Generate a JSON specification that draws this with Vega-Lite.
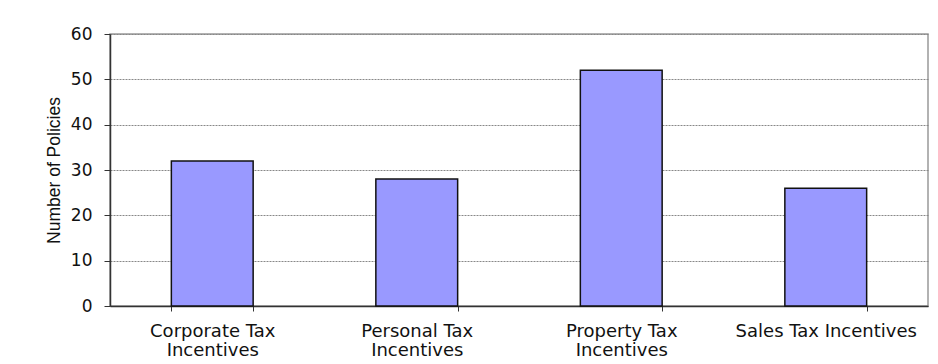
{
  "$schema": "https://vega.github.io/schema/vega-lite/v6.json",
  "autosize": "none",
  "width": 818,
  "height": 272,
  "padding": {"left": 110, "top": 34, "right": 10, "bottom": 58},
  "background": "white",
  "data": {
    "values": [
      {"category": "Corporate Tax Incentives", "policies": 32},
      {"category": "Personal Tax Incentives", "policies": 28},
      {"category": "Property Tax Incentives", "policies": 52},
      {"category": "Sales Tax Incentives", "policies": 26}
    ]
  },
  "mark": {"type": "bar", "color": "#9999FF", "stroke": "#111111", "strokeWidth": 1.5},
  "encoding": {
    "x": {
      "field": "category",
      "type": "nominal",
      "sort": null,
      "scale": {"paddingInner": 0.6, "paddingOuter": 0.3},
      "axis": {
        "title": null,
        "labelAngle": 0,
        "tickBand": "extent",
        "tickSize": 5,
        "tickColor": "#333333",
        "domainColor": "#333333",
        "domainWidth": 1.5,
        "labelFont": "DejaVu Sans",
        "labelFontSize": 18,
        "labelColor": "#111111",
        "labelPadding": 11,
        "labelLineHeight": 19.5,
        "labelLimit": 0,
        "labelOverlap": false,
        "labelExpr": "!datum.value ? '' : datum.value == 'Sales Tax Incentives' ? datum.value : [replace(datum.value, ' Incentives', ''), 'Incentives']"
      }
    },
    "y": {
      "field": "policies",
      "type": "quantitative",
      "scale": {"domain": [0, 60]},
      "axis": {
        "title": "Number of Policies",
        "titleFont": "Liberation Sans",
        "titleFontSize": 17.5,
        "titleFontWeight": "normal",
        "titleColor": "#111111",
        "titlePadding": 7,
        "values": [0, 10, 20, 30, 40, 50, 60],
        "tickSize": 6,
        "tickColor": "#333333",
        "domainColor": "#333333",
        "domainWidth": 1.5,
        "labelFont": "DejaVu Sans",
        "labelFontSize": 17,
        "labelColor": "#111111",
        "labelPadding": 12,
        "grid": true,
        "gridColor": "#888888",
        "gridDash": [2, 1],
        "gridWidth": 1
      }
    }
  },
  "config": {
    "view": {"stroke": "#999999", "strokeWidth": 1.5}
  }
}
